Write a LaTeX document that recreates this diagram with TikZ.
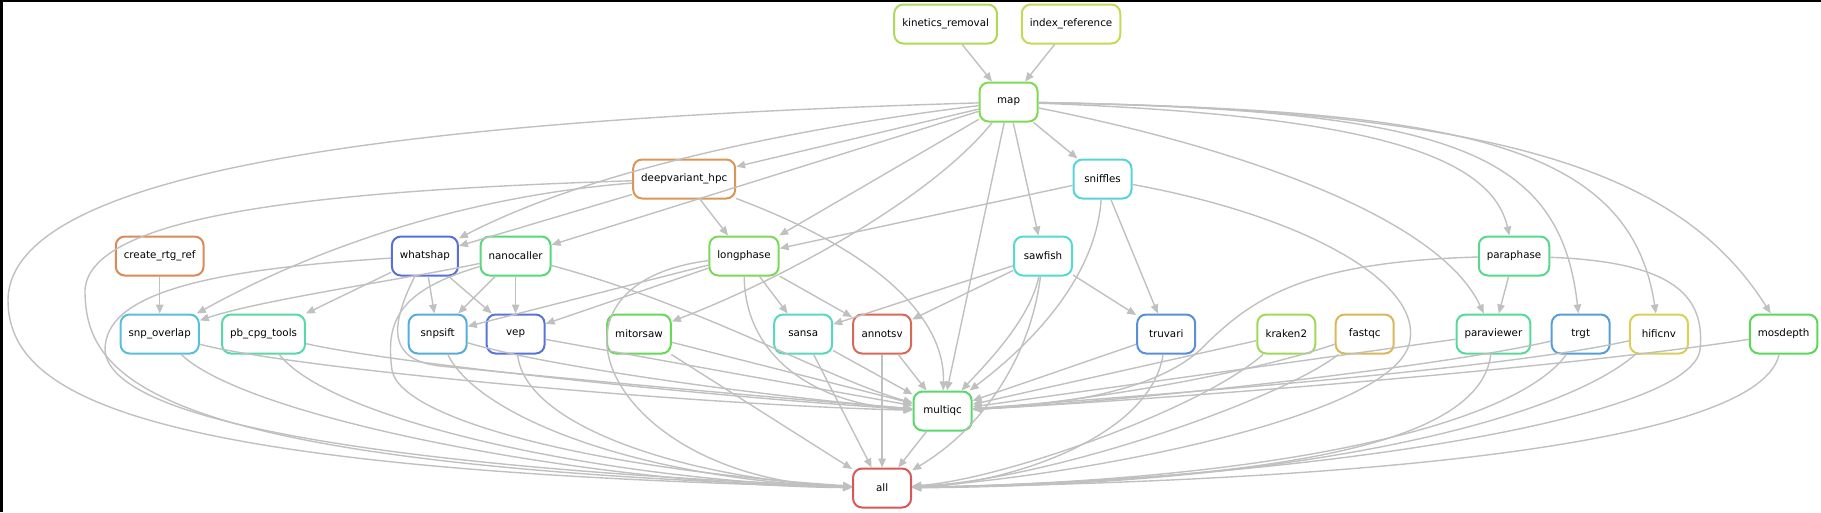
\documentclass[tikz,border=0pt]{standalone}
\usepackage{xcolor}
\usepackage{fontspec}
\setmainfont{DejaVu Sans}
\usepackage{tikz}
\usetikzlibrary{shapes,arrows,arrows.meta,positioning,calc}
\definecolor{edgegray}{RGB}{192,192,192}
\definecolor{kincol}{RGB}{175,217,87}
\definecolor{idxcol}{RGB}{196,217,87}
\definecolor{mapcol}{RGB}{128,217,87}
\definecolor{dvcol}{RGB}{217,150,87}
\definecolor{rtgcol}{RGB}{217,138,87}
\definecolor{snfcol}{RGB}{87,212,217}
\definecolor{sfcol}{RGB}{87,217,210}
\definecolor{whcol}{RGB}{87,112,217}
\definecolor{nccol}{RGB}{87,217,123}
\definecolor{lpcol}{RGB}{123,217,87}
\definecolor{ppcol}{RGB}{87,217,137}
\definecolor{socol}{RGB}{87,192,217}
\definecolor{cpgcol}{RGB}{87,217,168}
\definecolor{sscol}{RGB}{87,173,217}
\definecolor{vepcol}{RGB}{87,117,217}
\definecolor{mitcol}{RGB}{102,217,87}
\definecolor{sansacol}{RGB}{87,217,192}
\definecolor{asvcol}{RGB}{217,105,87}
\definecolor{trucol}{RGB}{87,144,217}
\definecolor{krcol}{RGB}{160,217,87}
\definecolor{fqccol}{RGB}{217,184,87}
\definecolor{pvcol}{RGB}{87,217,155}
\definecolor{trgtcol}{RGB}{87,158,217}
\definecolor{hcnvcol}{RGB}{217,208,87}
\definecolor{moscol}{RGB}{91,217,87}
\definecolor{mqccol}{RGB}{87,217,107}
\definecolor{allcol}{RGB}{217,87,87}

\begin{document}
\begin{tikzpicture}[
    x=1pt, y=-1pt,
    box/.style={rectangle, draw, rounded corners=9pt, line width=2pt, align=center, minimum width=58pt, minimum height=39pt, inner xsep=8pt, font=\fontsize{10.3}{12}\selectfont},
    arrow/.style={->, >={Stealth[length=9pt,width=7.5pt,inset=0pt]}, line width=1.4pt, draw=edgegray}
]
    \useasboundingbox (0,0) rectangle (1821,512);
    \fill[black] (0,0) rectangle (1821,2);
    \fill[black] (0,0) rectangle (2.5,512);

    % rules
    \node[box, draw=kincol] (kin) at (945.6,24) {kinetics\_removal};
    \node[box, draw=idxcol] (idx) at (1071,24) {index\_reference};
    \node[box, draw=mapcol] (map) at (1008.6,102) {map};
    \node[box, draw=dvcol] (dv) at (684.2,179) {deepvariant\_hpc};
    \node[box, draw=snfcol] (snf) at (1102.5,179) {sniffles};
    \node[box, draw=rtgcol] (rtg) at (159.7,256) {create\_rtg\_ref};
    \node[box, draw=whcol] (wh) at (424.9,256) {whatshap};
    \node[box, draw=nccol] (nc) at (515.6,256) {nanocaller};
    \node[box, draw=lpcol] (lp) at (744,256) {longphase};
    \node[box, draw=sfcol] (sf) at (1043,256) {sawfish};
    \node[box, draw=ppcol] (pp) at (1514,256) {paraphase};
    \node[box, draw=socol] (so) at (159.7,334) {snp\_overlap};
    \node[box, draw=cpgcol] (cpg) at (263.5,334) {pb\_cpg\_tools};
    \node[box, draw=sscol] (ss) at (437.7,334) {snpsift};
    \node[box, draw=vepcol] (vep) at (515.6,334) {vep};
    \node[box, draw=mitcol] (mit) at (639,334) {mitorsaw};
    \node[box, draw=sansacol] (sansa) at (803.2,334) {sansa};
    \node[box, draw=asvcol] (asv) at (882.1,334) {annotsv};
    \node[box, draw=trucol] (tru) at (1166.2,334) {truvari};
    \node[box, draw=krcol] (kr) at (1286.3,334) {kraken2};
    \node[box, draw=fqccol] (fqc) at (1364.7,334) {fastqc};
    \node[box, draw=pvcol] (pv) at (1493.4,334) {paraviewer};
    \node[box, draw=trgtcol] (trgt) at (1580.7,334) {trgt};
    \node[box, draw=hcnvcol] (hcnv) at (1658.9,334) {hificnv};
    \node[box, draw=moscol] (mos) at (1783.6,334) {mosdepth};
    \node[box, draw=mqccol] (mqc) at (942.6,411) {multiqc};
    \node[box, draw=allcol] (all) at (882.1,488) {all};

    % inputs of map
    \draw[arrow] (kin) -- (map);
    \draw[arrow] (idx) -- (map);

    % from map
    \draw[arrow] (map) -- (dv);
    \draw[arrow] (map) -- (snf);
    \draw[arrow] (map) -- (sf);
    \draw[arrow] (map) -- (lp);
    \draw[arrow] (map) -- (nc);
    \draw[arrow] (map) -- (mqc);
    \draw[arrow] (map) .. controls (820,125) and (600,165) .. (wh);
    \draw[arrow] (map) .. controls (930,200) and (780,280) .. (mit);
    \draw[arrow] (map) .. controls (1350,115) and (1490,150) .. (pp);
    \draw[arrow] (map) .. controls (1250,150) and (1440,220) .. (pv);
    \draw[arrow] (map) .. controls (1450,110) and (1560,150) .. (trgt);
    \draw[arrow] (map) .. controls (1450,110) and (1630,140) .. (hcnv);
    \draw[arrow] (map) .. controls (1500,110) and (1680,170) .. (mos);
    \draw[arrow] (map) .. controls (400,120) and (10,170) .. (8,300) .. controls (8,400) and (150,470) .. (all);

    % from deepvariant_hpc
    \draw[arrow] (dv) -- (wh);
    \draw[arrow] (dv) -- (lp);
    \draw[arrow] (dv) .. controls (480,195) and (330,240) .. (so);
    \draw[arrow] (dv) .. controls (900,260) and (945,330) .. (mqc);
    \draw[arrow] (dv) .. controls (350,190) and (90,210) .. (85,290) .. controls (85,380) and (150,465) .. (all);

    % from sniffles
    \draw[arrow] (snf) -- (lp);
    \draw[arrow] (snf) -- (tru);
    \draw[arrow] (snf) .. controls (1095,290) and (1010,360) .. (mqc);
    \draw[arrow] (snf) .. controls (1300,215) and (1420,280) .. (1410,340) .. controls (1400,420) and (1050,480) .. (all);

    % from sawfish
    \draw[arrow] (sf) -- (sansa);
    \draw[arrow] (sf) -- (asv);
    \draw[arrow] (sf) -- (tru);
    \draw[arrow] (sf) .. controls (1030,320) and (985,365) .. (mqc);
    \draw[arrow] (sf) .. controls (1030,360) and (980,430) .. (all);

    % from create_rtg_ref
    \draw[arrow] (rtg) -- (so);

    % from whatshap
    \draw[arrow] (wh) -- (cpg);
    \draw[arrow] (wh) -- (ss);
    \draw[arrow] (wh) -- (vep);
    \draw[arrow] (wh) .. controls (388,330) and (390,360) .. (440,366) .. controls (600,382) and (800,400) .. (mqc);
    \draw[arrow] (wh) .. controls (200,270) and (105,295) .. (105,350) .. controls (110,430) and (450,470) .. (all);

    % from nanocaller
    \draw[arrow] (nc) -- (ss);
    \draw[arrow] (nc) -- (vep);
    \draw[arrow] (nc) .. controls (400,280) and (260,300) .. (so);
    \draw[arrow] (nc) .. controls (700,305) and (830,380) .. (mqc);
    \draw[arrow] (nc) .. controls (400,290) and (385,320) .. (392,370) .. controls (400,420) and (600,470) .. (all);

    % from longphase
    \draw[arrow] (lp) -- (ss);
    \draw[arrow] (lp) -- (vep);
    \draw[arrow] (lp) -- (sansa);
    \draw[arrow] (lp) -- (asv);
    \draw[arrow] (lp) .. controls (745,360) and (820,405) .. (mqc);
    \draw[arrow] (lp) .. controls (520,285) and (610,480) .. (all);

    % from paraphase
    \draw[arrow] (pp) -- (pv);
    \draw[arrow] (pp) .. controls (1300,262) and (1250,300) .. (1200,350) .. controls (1150,395) and (1050,405) .. (mqc);
    \draw[arrow] (pp) .. controls (1680,262) and (1705,300) .. (1700,350) .. controls (1690,420) and (1300,480) .. (all);

    % reports into multiqc and all
    \draw[arrow] (so) .. controls (300,370) and (700,405) .. (mqc);
    \draw[arrow] (so) .. controls (250,420) and (600,485) .. (all);
    \draw[arrow] (cpg) .. controls (400,365) and (750,400) .. (mqc);
    \draw[arrow] (cpg) .. controls (330,420) and (600,480) .. (all);
    \draw[arrow] (ss) .. controls (560,370) and (800,400) .. (mqc);
    \draw[arrow] (ss) .. controls (480,420) and (650,480) .. (all);
    \draw[arrow] (vep) -- (mqc);
    \draw[arrow] (vep) .. controls (525,430) and (700,480) .. (all);
    \draw[arrow] (mit) -- (mqc);
    \draw[arrow] (mit) -- (all);
    \draw[arrow] (sansa) -- (mqc);
    \draw[arrow] (sansa) -- (all);
    \draw[arrow] (asv) -- (mqc);
    \draw[arrow] (asv) -- (all);
    \draw[arrow] (tru) -- (mqc);
    \draw[arrow] (tru) .. controls (1150,440) and (1000,485) .. (all);
    \draw[arrow] (kr) -- (mqc);
    \draw[arrow] (kr) .. controls (1200,410) and (1000,480) .. (all);
    \draw[arrow] (fqc) .. controls (1230,380) and (1050,405) .. (mqc);
    \draw[arrow] (fqc) .. controls (1280,400) and (1050,480) .. (all);
    \draw[arrow] (pv) -- (mqc);
    \draw[arrow] (pv) .. controls (1480,440) and (1300,480) .. (all);
    \draw[arrow] (trgt) .. controls (1450,365) and (1150,400) .. (mqc);
    \draw[arrow] (trgt) .. controls (1520,420) and (1300,480) .. (all);
    \draw[arrow] (hcnv) .. controls (1500,370) and (1150,395) .. (mqc);
    \draw[arrow] (hcnv) .. controls (1560,420) and (1300,485) .. (all);
    \draw[arrow] (mos) .. controls (1550,370) and (1150,400) .. (mqc);
    \draw[arrow] (mos) .. controls (1760,440) and (1400,480) .. (all);
    \draw[arrow] (mqc) -- (all);
\end{tikzpicture}
\end{document}
